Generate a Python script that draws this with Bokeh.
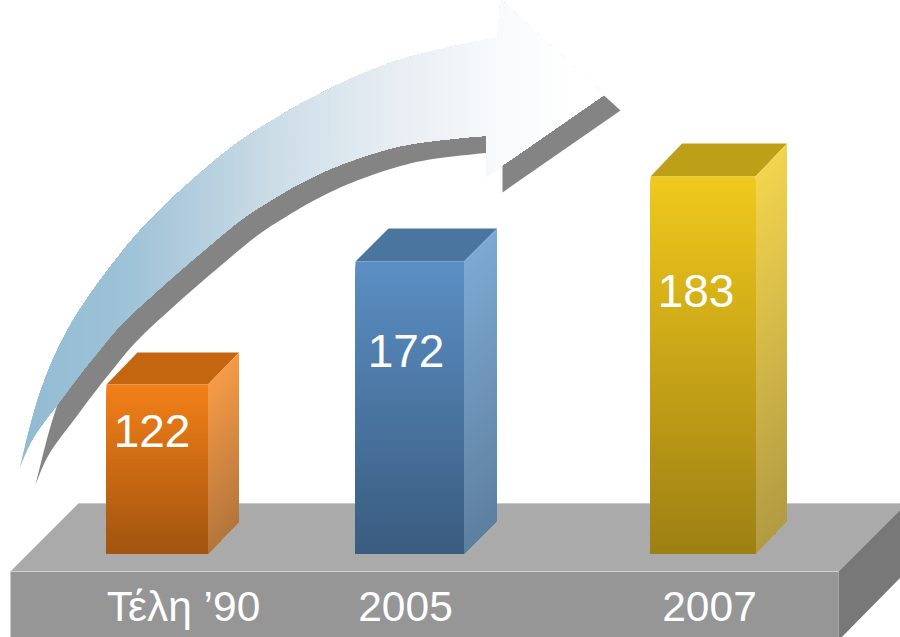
from bokeh.plotting import figure
from bokeh.models import Range1d, ColumnDataSource
from bokeh.core.properties import value
from bokeh.embed import file_html
from bokeh.resources import INLINE

# ---- chart data (the drawn heights of this infographic are not proportional to its labels)
categories = ["Τέλη ’90", "2005", "2007"]
values = [122, 172, 183]
bar_heights = [169, 292, 377]

# ---- styling
FONT = value("Liberation Sans")
BASE = 553
bar_left = [106, 355, 650]
bar_right = [207.5, 463.5, 755]
bar_depth = [(31, 32), (33, 33), (31.5, 33)]
front_colors = [("#F38019", "#A2540F"), ("#5B8FC4", "#3A5C7F"), ("#F0C91C", "#9E8013")]
top_colors = ["#C46610", "#4A759E", "#BDA018"]
side_colors = [("#F69B46", "#B4763C"), ("#7DA9D3", "#5E809F"), ("#F3D44F", "#B29B42")]
value_x = [151.5, 405.5, 695.5]
value_y = [430, 350.5, 290]
cat_x = [183, 405, 709]
CAT_Y = 606

p = figure(width=900, height=637, x_range=Range1d(0, 900), y_range=Range1d(637, 0),
           toolbar_location=None, output_backend="svg", min_border=0, margin=0)
p.axis.visible = False
p.grid.visible = False
p.outline_line_color = None
p.background_fill_color = "#FFFFFF"
p.border_fill_color = "#FFFFFF"


def hex2rgb(c):
    return tuple(int(c[i:i + 2], 16) for i in (1, 3, 5))


def mix(a, b, t):
    a, b = hex2rgb(a), hex2rgb(b)
    return "#%02X%02X%02X" % tuple(round(a[i] + (b[i] - a[i]) * t) for i in range(3))


def smooth(pts, n=10):
    out = []
    P = [pts[0]] + list(pts) + [pts[-1]]
    for i in range(1, len(P) - 2):
        p0, p1, p2, p3 = P[i - 1], P[i], P[i + 1], P[i + 2]
        for k in range(n):
            t = k / n
            out.append(tuple(
                0.5 * (2 * p1[j] + (p2[j] - p0[j]) * t
                       + (2 * p0[j] - 5 * p1[j] + 4 * p2[j] - p3[j]) * t * t
                       + (3 * p1[j] - p0[j] - 3 * p2[j] + p3[j]) * t ** 3)
                for j in (0, 1)))
    out.append(pts[-1])
    return out


def clip_left(poly, xmin):
    res = []
    for i in range(len(poly)):
        a, b = poly[i], poly[(i + 1) % len(poly)]
        ka, kb = a[0] >= xmin, b[0] >= xmin
        if ka:
            res.append(a)
        if ka != kb:
            t = (xmin - a[0]) / (b[0] - a[0])
            res.append((xmin, a[1] + (b[1] - a[1]) * t))
    return res


# ---- platform
p.patch([78, 900, 900, 838, 10], [503, 503, 509, 571, 571], fill_color="#AAAAAA", line_color=None)
p.line([78, 900], [503, 503], line_color="#C9C9C9", line_width=1.2)
p.patch([838, 900, 900, 838], [571, 509, 577, 640], fill_color="#787878", line_color=None)
p.quad(left=[10], right=[838], top=[571], bottom=[637], fill_color="#969696", line_color=None)
p.line([10, 838], [571, 571], line_color="#D2D2D2", line_width=1.2)
p.line([10, 78], [571, 503], line_color="#C9C9C9", line_width=0.8)

# ---- arrow
outer = smooth([(19, 468), (37, 400), (60, 343), (93, 289), (148, 221),
                (223, 153), (280, 115), (330, 88), (380, 66), (430, 51), (497, 37)])
inner = smooth([(486, 135), (413, 143), (360, 157), (313, 176), (270, 200), (227, 230),
                (133, 312), (93, 357), (60, 400), (33, 437), (19, 468)])
arrow = outer + [(500, -1), (604, 94), (503, 164), (486, 176)] + inner[:-1]

shadow_x = [q[0] + 16 for q in arrow]
shadow_y = [q[1] + 16 for q in arrow]
p.patch(shadow_x, shadow_y, fill_color="#848484", line_color=None)

stops = [(19, "#91BBD2"), (130, "#9FC3D7"), (180, "#AECBDC"), (270, "#CBDCE6"),
         (350, "#DEE8EF"), (400, "#E8EEF3"), (490, "#F7F9FB"), (570, "#FFFFFF"), (605, "#FFFFFF")]


def ramp(x):
    for (x0, c0), (x1, c1) in zip(stops, stops[1:]):
        if x <= x1:
            return mix(c0, c1, (x - x0) / (x1 - x0))
    return stops[-1][1]


xs, ys, cs = [], [], []
for x in range(19, 605, 3):
    part = clip_left(arrow, x)
    if len(part) >= 3:
        xs.append([q[0] for q in part])
        ys.append([q[1] for q in part])
        cs.append(ramp(x + 1))
p.patches(xs, ys, fill_color=cs, line_color=None)

# ---- bars (each gradient slice runs on to the foot of the bar, so no seams show)
for i in range(3):
    l, r = bar_left[i], bar_right[i]
    h = bar_heights[i]
    dx, dy = bar_depth[i]
    top = BASE - h
    N = h // 3
    p.patch([l, l + dx, r + dx, r], [top, top - dy, top - dy, top],
            fill_color=top_colors[i], line_color=None)
    sx, sy, sc = [], [], []
    for k in range(N):
        a = top + 3 * k
        sx.append([r, r + dx, r + dx, r])
        sy.append([a, a - dy, BASE - dy, BASE])
        sc.append(mix(*side_colors[i], (k + 0.5) / N))
    p.patches(sx, sy, fill_color=sc, line_color=None)
    tops = [top + 3 * k for k in range(N)]
    fc = [mix(*front_colors[i], (k + 0.5) / N) for k in range(N)]
    src = ColumnDataSource(dict(l=[l] * N, r=[r] * N, t=tops, b=[BASE] * N, c=fc))
    p.quad(left="l", right="r", top="t", bottom="b", fill_color="c", line_color=None, source=src)

# ---- texts
p.text(value_x, value_y, text=[str(v) for v in values], text_font=FONT, text_font_size="46px",
       text_color="#FFFFFF", text_align="center", text_baseline="middle")
p.text(cat_x, [CAT_Y] * 3, text=categories, text_font=FONT, text_font_size="42.5px",
       text_color="#FFFFFF", text_align="center", text_baseline="middle")

open("out.html", "w").write(file_html(p, INLINE))
